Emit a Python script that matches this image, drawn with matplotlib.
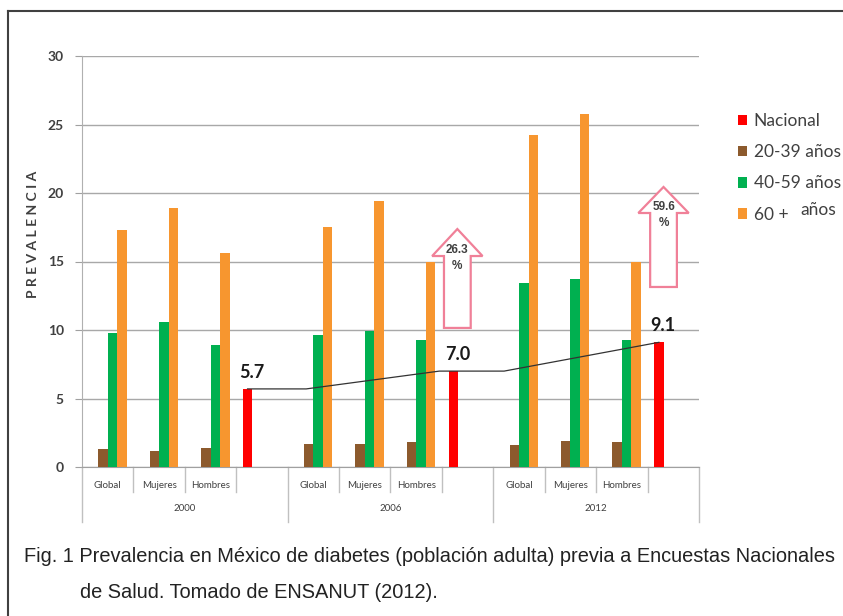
import numpy as np
import matplotlib
matplotlib.use("Agg")
import matplotlib.pyplot as plt
from matplotlib.patches import Polygon
from matplotlib.lines import Line2D
import matplotlib.transforms as mtransforms

# data
years = ["2000", "2006", "2012"]
subgroups = ["Global", "Mujeres", "Hombres", ""]
nacional = [0, 0, 0, 5.7, 0, 0, 0, 7.0, 0, 0, 0, 9.1]
edad_20_39 = [1.3, 1.2, 1.4, 0, 1.7, 1.7, 1.8, 0, 1.6, 1.9, 1.8, 0]
edad_40_59 = [9.8, 10.6, 8.9, 0, 9.6, 9.9, 9.3, 0, 13.4, 13.7, 9.3, 0]
edad_60 = [17.3, 18.9, 15.6, 0, 17.5, 19.4, 15.0, 0, 24.2, 25.8, 15.0, 0]
series_names = ["Nacional", "20-39 años", "40-59 años", "60 +"]
colors = ["#FF0000", "#8C5A2D", "#00B050", "#F7962F"]

# hand drawn trend line over the national bars
trend_x = [2.72, 3.86, 6.45, 7.71, 10.72]
trend_y = [5.7, 5.7, 7.0, 7.0, 9.1]

# increase arrows: label, centre, bottom, head base, tip
arrows = [("26.3", 6.80, 10.15, 15.4, 17.37),
          ("59.6", 10.81, 13.14, 18.54, 20.44)]

fig = plt.figure(figsize=(8.43, 6.16), dpi=100)
ax = fig.add_axes([82 / 843, 1 - 467 / 616, 617 / 843, 411 / 616])

n = len(nacional)
x = np.arange(n)
w = 0.185
all_series = [nacional, edad_20_39, edad_40_59, edad_60]
handles = []
for k, (vals, c, name) in enumerate(zip(all_series, colors, series_names)):
    b = ax.bar(x + (k - 1.5) * w, vals, width=w, color=c, label=name, zorder=3)
    handles.append(b)

# value labels on the national bars
for i, v in enumerate(nacional):
    if v > 0:
        ax.annotate(f"{v:.1f}", (i - 1.5 * w, v), xytext=(3, 6), textcoords="offset points",
                    ha="center", va="bottom", fontsize=13, fontweight="bold",
                    family="Lato", color="#1a1a1a", zorder=5)

ax.plot(trend_x, trend_y, color="#333333", lw=0.9, zorder=4)

for lab, xc, yb, yh, yt in arrows:
    sh, hh = 0.26, 0.49
    verts = [(xc - sh, yb), (xc + sh, yb), (xc + sh, yh), (xc + hh, yh), (xc, yt),
             (xc - hh, yh), (xc - sh, yh)]
    ax.add_patch(Polygon(verts, closed=True, facecolor="white", edgecolor="#F08098",
                         lw=1.6, zorder=4))
    ax.text(xc, yh + 0.45, lab, ha="center", va="center", fontsize=8.5,
            fontweight="bold", color="#404040", family="Liberation Sans", zorder=5)
    ax.text(xc, yh - 0.75, "%", ha="center", va="center", fontsize=8.5,
            fontweight="bold", color="#404040", family="Liberation Sans", zorder=5)

ax.set_xlim(-0.5, n - 0.5)
ax.set_ylim(0, 30)
ax.set_yticks(range(0, 31, 5))
ax.tick_params(axis="y", length=5, color="#a0a0a0", labelsize=10, labelcolor="#404040", pad=8)
for t in ax.get_yticklabels():
    t.set_family("Lato")
    t.set_fontweight("bold")
ax.set_xticks([])
ax.grid(axis="y", color="#a8a8a8", lw=1, zorder=0)
for s in ["top", "right"]:
    ax.spines[s].set_visible(False)
ax.spines["left"].set_color("#b0b0b0")
ax.spines["bottom"].set_color("#a0a0a0")

# two-level category axis
trans = mtransforms.blended_transform_factory(ax.transData, ax.transAxes)
for i in range(n + 1):
    xb = i - 0.5
    depth = -0.135 if i % 4 == 0 else -0.061
    ax.add_line(Line2D([xb, xb], [0, depth], transform=trans, color="#c0c0c0",
                       lw=1, clip_on=False))
for i in range(n):
    ax.text(i, -0.044, subgroups[i % 4], transform=trans, ha="center", va="center",
            fontsize=7, color="#404040", family="Lato")
for g, yr in enumerate(years):
    ax.text(g * 4 + 1.5, -0.102, yr, transform=trans, ha="center", va="center",
            fontsize=7, color="#404040", family="Lato")

ax.text(-0.079, 0.565, "P R E V A L E N C I A", transform=ax.transAxes, rotation=90,
        ha="center", va="center", fontsize=10, color="#404040", family="Lato",
        fontweight="bold")

leg = fig.legend(handles=handles, labels=["Nacional", "20-39 años", "40-59 años", "60 +"],
                 loc="upper left", bbox_to_anchor=(731 / 843, 1 - 106 / 616), frameon=False,
                 prop={"family": "Lato", "size": 12.5}, handlelength=0.55, handleheight=0.55,
                 handletextpad=0.35, labelspacing=0.88, borderaxespad=0)
for t in leg.get_texts():
    t.set_color("#404040")
fig.text(800 / 843, 1 - 210 / 616, "años", ha="left", va="center", fontsize=12.5,
         family="Lato", color="#404040")

# outer frame of the figure box
fig.add_artist(Line2D([8 / 843, 8 / 843], [0, 1 - 11 / 616], color="#404040", lw=1.5))
fig.add_artist(Line2D([8 / 843, 1], [1 - 11 / 616, 1 - 11 / 616], color="#404040", lw=1.5))

fig.text(24 / 843, 1 - 557 / 616,
         "Fig. 1 Prevalencia en México de diabetes (población adulta) previa a Encuestas Nacionales",
         ha="left", va="center", fontsize=14.4, family="Liberation Sans", color="#222222")
fig.text(80 / 843, 1 - 592 / 616, "de Salud. Tomado de ENSANUT (2012).",
         ha="left", va="center", fontsize=14.4, family="Liberation Sans", color="#222222")

fig.savefig("out.png", dpi=100)
